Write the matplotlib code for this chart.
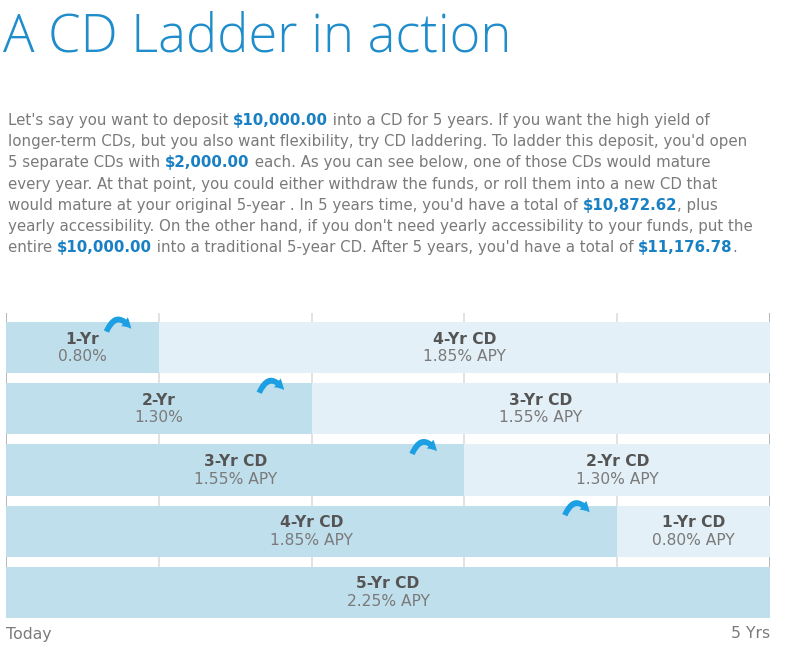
import matplotlib
matplotlib.use("Agg")
import matplotlib.pyplot as plt
from matplotlib.patches import FancyArrowPatch

# ── data ──
first_years = [1, 2, 3, 4, 5]
first_names = ["1-Yr", "2-Yr", "3-Yr CD", "4-Yr CD", "5-Yr CD"]
first_rates = ["0.80%", "1.30%", "1.55% APY", "1.85% APY", "2.25% APY"]
second_years = [4, 3, 2, 1, 0]
second_names = ["4-Yr CD", "3-Yr CD", "2-Yr CD", "1-Yr CD", ""]
second_rates = ["1.85% APY", "1.55% APY", "1.30% APY", "0.80% APY", ""]
axis_labels = ["Today", "5 Yrs"]

title = "A CD Ladder in action"
para = [
    [("Let's say you want to deposit ", 0), ("$10,000.00", 1),
     (" into a CD for 5 years. If you want the high yield of", 0)],
    [("longer-term CDs, but you also want flexibility, try CD laddering. To ladder this deposit, you'd open", 0)],
    [("5 separate CDs with ", 0), ("$2,000.00", 1),
     (" each. As you can see below, one of those CDs would mature", 0)],
    [("every year. At that point, you could either withdraw the funds, or roll them into a new CD that", 0)],
    [("would mature at your original 5-year . In 5 years time, you'd have a total of ", 0),
     ("$10,872.62", 1), (", plus", 0)],
    [("yearly accessibility. On the other hand, if you don't need yearly accessibility to your funds, put the", 0)],
    [("entire ", 0), ("$10,000.00", 1),
     (" into a traditional 5-year CD. After 5 years, you'd have a total of ", 0),
     ("$11,176.78", 1), (".", 0)],
]

DARK = "#c0dfec"
LIGHT = "#e3f0f7"
BLUE = "#1a80c4"
GREY = "#7a7a7a"
W, H = 786, 650

fig = plt.figure(figsize=(W / 100, H / 100), dpi=100)
fig.patch.set_facecolor("white")

fig.text(3 / W, 1 - 38 / H, title, fontsize=37.8, color="#1f8ccb",
         family=["Open Sans", "DejaVu Sans"], fontweight="light", va="center")

# paragraph with mixed styles
renderer = fig.canvas.get_renderer()
fs = 10.85
for i, line in enumerate(para):
    x = 8 / W
    y = 1 - (125 + i * 21.2) / H
    for txt, bold in line:
        t = fig.text(x, y, txt, fontsize=fs, va="baseline", ha="left",
                     color=BLUE if bold else GREY,
                     fontweight="bold" if bold else "normal")
        bb = t.get_window_extent(renderer)
        x += bb.width / W

# ── ladder chart ──
ax = fig.add_axes([6 / W, 1 - 618 / H, 764 / W, 305 / H])
rows = list(range(len(first_years)))
bh = 51 / 61
ax.barh(rows, first_years, height=bh, color=DARK, zorder=2)
ax.barh(rows, second_years, left=first_years, height=bh, color=LIGHT, zorder=2)

for x in range(6):
    c = "#aaaaaa" if x in (0, 5) else "#dddddd"
    ax.axvline(x, color=c, lw=1.2, zorder=1)

lab_kw = dict(ha="center", va="center", fontsize=11.2)
for r in rows:
    f = first_years[r]
    s = second_years[r]
    ax.text(f / 2, r - 0.14, first_names[r], color="#555555", fontweight="bold", **lab_kw)
    ax.text(f / 2, r + 0.15, first_rates[r], color=GREY, **lab_kw)
    if s:
        ax.text(f + s / 2, r - 0.14, second_names[r], color="#555555", fontweight="bold", **lab_kw)
        ax.text(f + s / 2, r + 0.15, second_rates[r], color=GREY, **lab_kw)
        arr = FancyArrowPatch((f - 0.35, r - 0.22), (f - 0.17, r - 0.27),
                              connectionstyle="arc3,rad=-0.95",
                              arrowstyle="simple,head_width=8,head_length=7,tail_width=4",
                              color="#1d9fe3", lw=0, zorder=4)
        ax.add_patch(arr)

ax.set_xlim(0, 5)
ax.set_ylim(4 + 25.5 / 61, -(25.5 + 9) / 61)
ax.axis("off")

fig.text(6 / W, 1 - 634 / H, axis_labels[0], fontsize=11.3, color=GREY, va="center", ha="left")
fig.text(770 / W, 1 - 634 / H, axis_labels[1], fontsize=11.3, color=GREY, va="center", ha="right")

fig.savefig("out.png", dpi=100)
